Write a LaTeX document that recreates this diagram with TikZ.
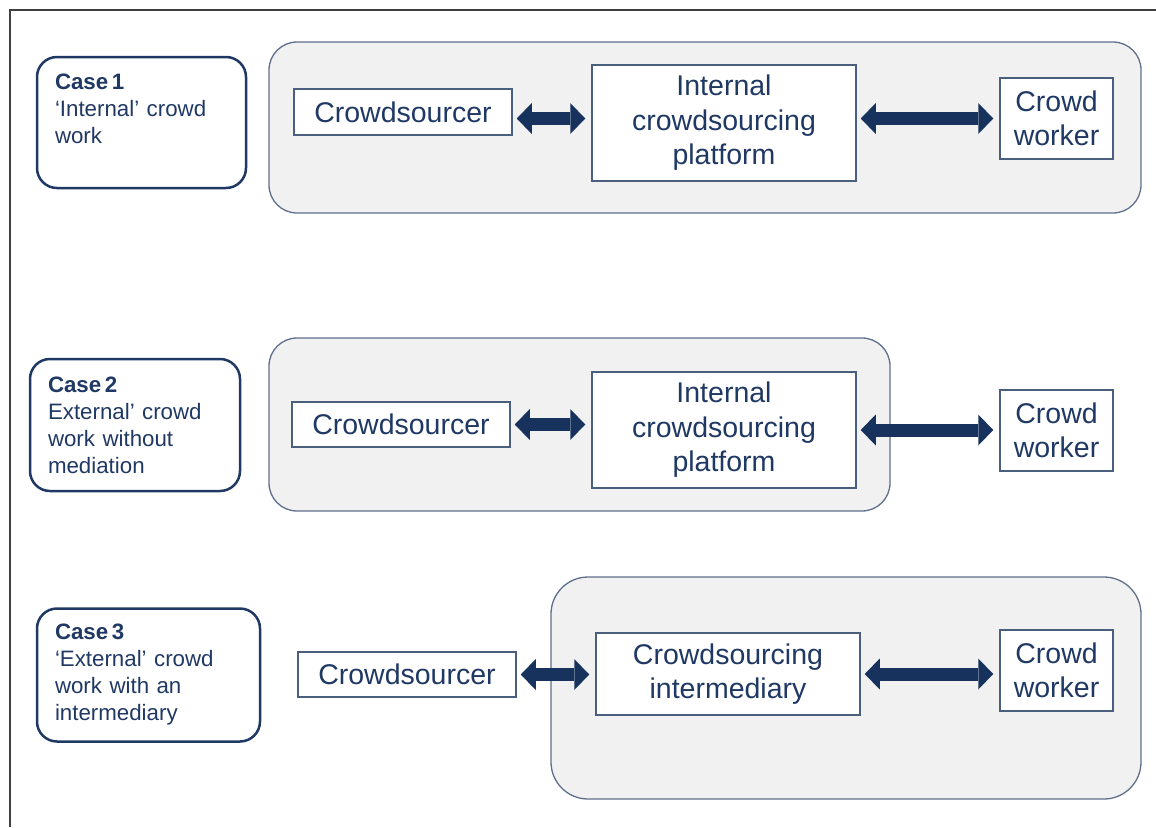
\documentclass[tikz,border=0pt]{standalone}
\usepackage{fontspec}
\setmainfont{Liberation Sans}
\usepackage{tikz}
\usetikzlibrary{arrows.meta,positioning}

\definecolor{navy}{HTML}{17325C}
\definecolor{navytext}{HTML}{1F3864}
\definecolor{boxline}{HTML}{4A5E7E}
\definecolor{panelline}{HTML}{5F6F8C}
\definecolor{panelfill}{HTML}{F1F1F1}

\begin{document}
\begin{tikzpicture}[x=1pt,y=-1pt]
                \tikzstyle{casebox} = [rectangle, rounded corners=20pt, draw=navytext, line width=2.5pt, text=navytext, align=left, inner xsep=18pt, font=\fontsize{22.3}{27}\selectfont]
                \tikzstyle{panel} = [rectangle, draw=panelline, line width=1.3pt, fill=panelfill]
                \tikzstyle{whitebox} = [rectangle, draw=boxline, line width=1.5pt, fill=white, text=navytext, align=center, font=\fontsize{28.5}{34.5}\selectfont]
                \tikzstyle{dblarrow} = [line width=13pt, draw=navy, <->, >={Triangle[length=15pt,width=31pt,line width=0pt]}, shorten <=4pt, shorten >=6pt]

                \useasboundingbox (0,0) rectangle (1156,827);
                \draw [line width=1.5pt, draw=black!75] (1156,10) -- (10,10) -- (10,827);

                % grey panels behind the boxes
                \node (panel1) [panel, rounded corners=28pt, minimum width=872pt, minimum height=171pt] at (705,127.5) {};
                \node (panel2) [panel, rounded corners=28pt, minimum width=621pt, minimum height=173pt] at (579.5,424.5) {};
                \node (panel3) [panel, rounded corners=37pt, minimum width=590pt, minimum height=222pt] at (846,688) {};

                % case 1
                \node (case1) [casebox, minimum width=209pt, minimum height=131pt, text width=173pt] at (141.5,122.5) {\textbf{Case\,1}\\‘Internal’ crowd\\work\\~};
                \node (crowdsourcer1) [whitebox, minimum width=218pt, minimum height=46pt] at (403,112) {Crowdsourcer};
                \node (platform1) [whitebox, minimum width=264pt, minimum height=116pt] at (724,123) {Internal\\crowdsourcing\\platform};
                \node (worker1) [whitebox, minimum width=113pt, minimum height=81pt] at (1056.5,118.5) {Crowd\\worker};

                % case 2
                \node (case2) [casebox, minimum width=210pt, minimum height=132pt, text width=174pt] at (135,425) {\textbf{Case\,2}\\External’ crowd\\work without\\mediation};
                \node (crowdsourcer2) [whitebox, minimum width=218pt, minimum height=45pt] at (401,424.5) {Crowdsourcer};
                \node (platform2) [whitebox, minimum width=264pt, minimum height=116pt] at (724,430) {Internal\\crowdsourcing\\platform};
                \node (worker2) [whitebox, minimum width=113pt, minimum height=81pt] at (1056.5,430.5) {Crowd\\worker};

                % case 3
                \node (case3) [casebox, minimum width=223pt, minimum height=133pt, text width=187pt] at (148.5,675) {\textbf{Case\,3}\\‘External’ crowd\\work with an\\intermediary};
                \node (crowdsourcer3) [whitebox, minimum width=218pt, minimum height=45pt] at (407,674.5) {Crowdsourcer};
                \node (intermediary3) [whitebox, minimum width=264pt, minimum height=82pt] at (728,674) {Crowdsourcing\\intermediary};
                \node (worker3) [whitebox, minimum width=113pt, minimum height=81pt] at (1056.5,670.5) {Crowd\\worker};

                \draw [dblarrow] (crowdsourcer1.east |- worker1.west) -- (platform1.west |- worker1.west);
                \draw [dblarrow] (platform1.east |- worker1.west) -- (worker1.west);
                \draw [dblarrow] (crowdsourcer2.east) -- (crowdsourcer2.east -| platform2.west);
                \draw [dblarrow] (platform2.east) -- (platform2.east -| worker2.west);
                \draw [dblarrow] (crowdsourcer3.east) -- (crowdsourcer3.east -| intermediary3.west);
                \draw [dblarrow] (intermediary3.east) -- (intermediary3.east -| worker3.west);

            \end{tikzpicture}
\end{document}
